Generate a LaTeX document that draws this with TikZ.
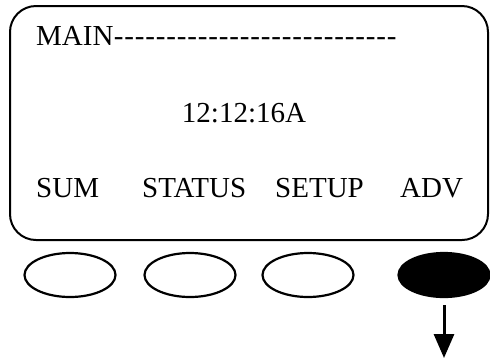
\documentclass[tikz,border=0pt]{standalone}
\usepackage{fontspec}
\setmainfont{Liberation Serif}[Ligatures=TeXOff]
\usetikzlibrary{shapes.geometric,arrows.meta}

\begin{document}
\begin{tikzpicture}[x=1pt,y=-1pt]
  \tikzstyle{every node}=[inner sep=0pt, font=\fontsize{29}{34}\selectfont]
  \tikzstyle{lbl}=[anchor=base west]
  \tikzstyle{key}=[ellipse, draw, line width=2.2pt, minimum width=91pt, minimum height=44pt]
  \useasboundingbox (0,0) rectangle (490,360);
  % display
  \draw[line width=2pt, rounded corners=26pt] (10,6) rectangle (488,240);
  \node[lbl] (title) at (36,45) {MAIN\foreach \d in {1,...,27}{\makebox[10.5pt]{-}}};
  \node[anchor=base] (clock) at (244,122) {12:12:16A};
  \node[lbl] (sum) at (36,197) {SUM};
  \node[lbl] (status) at (142,197) {STATUS};
  \node[lbl] (setup) at (275,197) {SETUP};
  \node[lbl] (adv) at (400,197) {ADV};
  % keys
  \node[key] (k1) at (70,275) {};
  \node[key] (k2) at (190,275) {};
  \node[key] (k3) at (308,275) {};
  \node[key, fill=black] (k4) at (444,275) {};
  \coordinate (tip) at (444,358);
  \draw[line width=3pt, -{Triangle[width=20pt,length=24pt]}] ([yshift=-7pt]k4.south) -- (tip);
\end{tikzpicture}
\end{document}
